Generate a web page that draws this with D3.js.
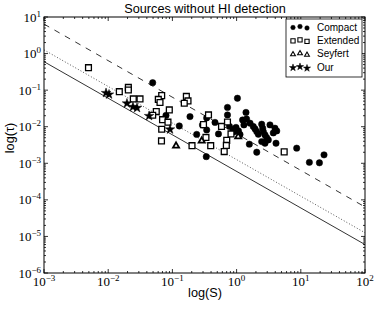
<!DOCTYPE html>
<html>
<head>
<meta charset="utf-8">
<script src="https://cdn.jsdelivr.net/npm/d3@7"></script>
<style>
	body { margin: 0; background: #fff; }
	svg { display: block; }
	.tickLabel { font-family: "Liberation Serif", "DejaVu Serif", serif; font-size: 13px; fill: #000; }
	.sans { font-family: "Liberation Sans", Arial, sans-serif; fill: #000; }
</style>
</head>
<body>
<svg id="svg0" width="374" height="311"></svg>
<script>
// axis ranges and tick labels
var xDomain = [1e-3, 1e2];
var yDomain = [1e-6, 1e1];
var xMajor = [1e-3, 1e-2, 1e-1, 1e0, 1e1, 1e2];
var xMajorLabel = ["-3", "-2", "-1", "0", "1", "2"];
var yMajor = [1e-6, 1e-5, 1e-4, 1e-3, 1e-2, 1e-1, 1e0, 1e1];
var yMajorLabel = ["-6", "-5", "-4", "-3", "-2", "-1", "0", "1"];

// Compact sources
var compactS = [0.0493, 0.0794, 0.128, 0.188, 0.239, 0.337, 0.342, 0.342, 0.461, 0.522,
	0.721, 0.721, 1.03, 1.40, 0.774, 0.879, 0.979, 0.895, 1.07, 1.13,
	1.24, 1.43, 1.62, 1.82, 1.94, 2.06, 2.18, 2.46, 2.55, 2.61,
	2.77, 2.94, 3.12, 3.31, 3.96, 4.22, 3.73, 2.46, 2.77, 1.58,
	2.06, 4.11, 8.63, 13.6, 19.5, 23.0, 0.294, 1.30];
var compactTau = [0.160, 0.0204, 0.0105, 0.0189, 0.00616, 0.00152, 0.00818, 0.0174, 0.0131, 0.00636,
	0.0337, 0.0210, 0.0601, 0.0246, 0.0102, 0.00844, 0.00957, 0.00721, 0.00767, 0.00616,
	0.0153, 0.0163, 0.0125, 0.0101, 0.00871, 0.00735, 0.00624, 0.0117, 0.00910, 0.00735,
	0.00597, 0.00504, 0.00436, 0.0112, 0.00910, 0.00767, 0.00677, 0.00392, 0.00354, 0.00333,
	0.00201, 0.00354, 0.00259, 0.00106, 0.00103, 0.00170, 0.0112, 0.0112];

// Extended sources
var extendedS = [0.00493, 0.0149, 0.0206, 0.0206, 0.0246, 0.0313, 0.0681, 0.0603, 0.0641, 0.0561,
	0.0493, 0.0895, 0.0702, 0.0853, 0.0681, 0.0676, 0.165, 0.175, 0.153, 0.365,
	0.305, 0.333, 0.202, 0.395, 0.582, 0.721, 0.702, 0.692, 0.641, 0.818, 5.51];
var extendedTau = [0.412, 0.0910, 0.1186, 0.101, 0.0575, 0.0575, 0.0708, 0.0557, 0.0461, 0.0259,
	0.0206, 0.0288, 0.0156, 0.0133, 0.00855, 0.00409, 0.0673, 0.0507, 0.0439, 0.0210,
	0.0114, 0.00510, 0.00303, 0.00303, 0.0102, 0.0135, 0.00423, 0.00308, 0.00209, 0.00636, 0.00205];

// Seyfert
var seyfertS = [0.114, 0.286, 1.06];
var seyfertTau = [0.00299, 0.00409, 0.00537];

// Our
var ourS = [0.00925, 0.0103, 0.0196, 0.0243, 0.0281, 0.0433, 0.0918];
var ourTau = [0.0838, 0.0764, 0.0434, 0.0348, 0.0327, 0.0197, 0.00844];

// limit lines (S, tau at the two ends)
var solidLine = [[1e-3, 0.6], [1e2, 6e-6]];
var dottedLine = [[1e-3, 1.26], [1e2, 1.26e-5]];
var dashedLine = [[1e-3, 6.4], [1e2, 6.4e-5]];

var legendNames = ["Compact", "Extended", "Seyfert", "Our"];

var svg = d3.select("#svg0");
var xScale = d3.scaleLog().domain(xDomain).range([44, 365]);
var yScale = d3.scaleLog().domain(yDomain).range([273, 17]);

function zip(a, b){
	return a.map(function(d, i){ return {s: d, t: b[i]}; });
}

var symCircle = d3.symbol().type(d3.symbolCircle).size(32);
var symSquare = d3.symbol().type(d3.symbolSquare).size(34);
var symTri = d3.symbol().type(d3.symbolTriangle).size(16);
var symStar = d3.symbol().type(d3.symbolStar).size(28);

// lines
var line = d3.line()
	.x(function(d){ return xScale(d[0]); })
	.y(function(d){ return yScale(d[1]); });

svg.append("path").attr("d", line(solidLine))
	.attr("fill", "none").attr("stroke", "#333").attr("stroke-width", 1);
svg.append("path").attr("d", line(dottedLine))
	.attr("fill", "none").attr("stroke", "#555").attr("stroke-width", 1).attr("stroke-dasharray", "1,2");
svg.append("path").attr("d", line(dashedLine))
	.attr("fill", "none").attr("stroke", "#333").attr("stroke-width", 1).attr("stroke-dasharray", "6,6");

// scatter
function drawSeries(data, sym, fill, sw){
	svg.append("g").selectAll("path")
		.data(data)
		.enter().append("path")
		.attr("d", sym)
		.attr("transform", function(d){ return "translate(" + xScale(d.s) + "," + yScale(d.t) + ")"; })
		.attr("fill", fill)
		.attr("stroke", "#000")
		.attr("stroke-width", sw);
}
drawSeries(zip(compactS, compactTau), symCircle, "#000", 0.5);
drawSeries(zip(extendedS, extendedTau), symSquare, "#fff", 1.3);
drawSeries(zip(seyfertS, seyfertTau), symTri, "#fff", 1.8);
drawSeries(zip(ourS, ourTau), symStar, "#000", 0.5);

// frame
svg.append("rect")
	.attr("x", 44).attr("y", 17).attr("width", 321).attr("height", 256)
	.attr("fill", "none").attr("stroke", "#000").attr("stroke-width", 1);

// ticks (inward, all four sides)
var xMinor = xScale.ticks().filter(function(d){ return xMajor.indexOf(d) < 0; });
var yMinor = yScale.ticks().filter(function(d){ return yMajor.indexOf(d) < 0; });
var tickG = svg.append("g").attr("stroke", "#000").attr("stroke-width", 0.8);

function xTicks(vals, len){
	vals.forEach(function(v){
		var x = xScale(v);
		tickG.append("line").attr("x1", x).attr("x2", x).attr("y1", 273).attr("y2", 273 - len);
		tickG.append("line").attr("x1", x).attr("x2", x).attr("y1", 17).attr("y2", 17 + len);
	});
}
function yTicks(vals, len){
	vals.forEach(function(v){
		var y = yScale(v);
		tickG.append("line").attr("x1", 44).attr("x2", 44 + len).attr("y1", y).attr("y2", y);
		tickG.append("line").attr("x1", 365).attr("x2", 365 - len).attr("y1", y).attr("y2", y);
	});
}
xTicks(xMajor, 4); xTicks(xMinor, 2);
yTicks(yMajor, 4); yTicks(yMinor, 2);

// tick labels
xMajor.forEach(function(v, i){
	var t = svg.append("text").attr("class", "tickLabel")
		.attr("x", xScale(v)).attr("y", 286).attr("text-anchor", "middle");
	t.append("tspan").text("10");
	t.append("tspan").attr("dy", -5).attr("font-size", "9px").text(xMajorLabel[i].replace("-", "\u2212"));
});
yMajor.forEach(function(v, i){
	var t = svg.append("text").attr("class", "tickLabel")
		.attr("x", 41).attr("y", yScale(v) + 4.5).attr("text-anchor", "end");
	t.append("tspan").text("10");
	t.append("tspan").attr("dy", -5).attr("font-size", "9px").text(yMajorLabel[i].replace("-", "\u2212"));
});

// title and axis labels
svg.append("text").attr("class", "sans").attr("x", 205).attr("y", 13)
	.attr("text-anchor", "middle").style("font-size", "12.7px").text("Sources without HI detection");
svg.append("text").attr("class", "sans").attr("x", 205).attr("y", 297)
	.attr("text-anchor", "middle").style("font-size", "12.7px").text("log(S)");
svg.append("text").attr("class", "sans")
	.attr("transform", "translate(14,138) rotate(-90)")
	.attr("text-anchor", "middle").style("font-size", "12.7px").text("log(\u03c4)");

// legend
var legG = svg.append("g");
legG.append("rect").attr("x", 286).attr("y", 19).attr("width", 76).attr("height", 58)
	.attr("fill", "#fff").attr("stroke", "#000").attr("stroke-width", 0.8);
var legSyms = [
	d3.symbol().type(d3.symbolCircle).size(16),
	d3.symbol().type(d3.symbolSquare).size(18),
	d3.symbol().type(d3.symbolTriangle).size(10),
	d3.symbol().type(d3.symbolStar).size(16)
];
var legFill = ["#000", "#fff", "#fff", "#000"];
var legSw = [0.5, 1.1, 1.1, 0.5];
var legOffset = [0.5, -0.5, 1];
legendNames.forEach(function(name, i){
	var y = 27 + i * 13.4;
	[293, 300, 307].forEach(function(x, j){
		legG.append("path").attr("d", legSyms[i])
			.attr("transform", "translate(" + x + "," + (y + legOffset[j]) + ")")
			.attr("fill", legFill[i]).attr("stroke", "#000").attr("stroke-width", legSw[i]);
	});
	legG.append("text").attr("class", "sans").attr("x", 317).attr("y", y + 3.5)
		.style("font-size", "10px").text(name);
});
</script>
</body>
</html>
